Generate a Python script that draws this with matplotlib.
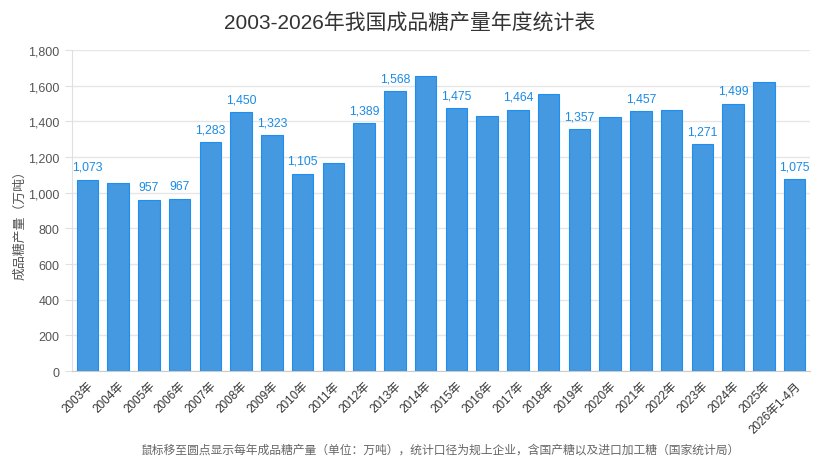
import matplotlib.pyplot as plt
from matplotlib.ticker import FuncFormatter

plt.rcParams['font.family'] = ['Liberation Sans', 'Noto Sans CJK SC', 'DejaVu Sans']

years = ['2003年', '2004年', '2005年', '2006年', '2007年', '2008年', '2009年', '2010年',
         '2011年', '2012年', '2013年', '2014年', '2015年', '2016年', '2017年', '2018年',
         '2019年', '2020年', '2021年', '2022年', '2023年', '2024年', '2025年', '2026年1-4月']
output = [1073, 1054, 957, 967, 1283, 1450, 1323, 1105,
          1166, 1389, 1568, 1656, 1475, 1432, 1464, 1552,
          1357, 1424, 1457, 1466, 1271, 1499, 1619, 1075]
# bars whose value label is drawn in the reference
labelled = ['2003年', '2005年', '2006年', '2007年', '2008年', '2009年', '2010年', '2012年',
            '2013年', '2015年', '2017年', '2019年', '2021年', '2023年', '2024年', '2026年1-4月']


def put_plot():
    fig = plt.figure(figsize=(8.2, 4.77), dpi=100)
    ax = fig.add_axes([0.0878, 0.2201, 0.9, 0.673])

    x = range(len(years))
    ax.bar(x, output, width=0.7, color='#4499e0', edgecolor='#1e8ef0', linewidth=0.8, zorder=3)
    for i, (yr, v) in enumerate(zip(years, output)):
        if yr in labelled:
            ax.annotate(f'{v:,}', (i, v), xytext=(0, 5), textcoords='offset points',
                        ha='center', va='bottom', fontsize=8.8, color='#1a8be6')

    ax.set_xlim(-0.5, len(years) - 0.5)
    ax.set_ylim(0, 1800)
    ax.set_yticks(range(0, 1801, 200))
    ax.yaxis.set_major_formatter(FuncFormatter(lambda v, p: f'{int(v):,}'))
    ax.grid(axis='y', color='#e6e6e6', linewidth=1, zorder=0)

    ax.set_xticks(list(x))
    ax.set_xticklabels(years, rotation=45, ha='right', rotation_mode='anchor', fontsize=8.5, color='#333333')
    ax.tick_params(axis='x', length=0, pad=6)
    ax.tick_params(axis='y', length=5, color='#e0e0e0', labelsize=9, labelcolor='#555555', pad=4)

    for s in ['top', 'right']:
        ax.spines[s].set_visible(False)
    ax.spines['left'].set_color('#e0e0e0')
    ax.spines['bottom'].set_color('#cccccc')

    ax.set_ylabel('成品糖产量（万吨）', fontsize=9.3, color='#555555')
    ax.yaxis.set_label_coords(-0.062, 0.467)
    fig.text(0.5, 0.953, '2003-2026年我国成品糖产量年度统计表', ha='center', va='center',
             fontsize=15, color='#333333')
    fig.text(0.537, 0.055, '鼠标移至圆点显示每年成品糖产量（单位：万吨），统计口径为规上企业，含国产糖以及进口加工糖（国家统计局）',
             ha='center', va='center', fontsize=8.5, color='#666666')

    plt.savefig('out.png', dpi=100)


if __name__ == "__main__":
    put_plot()
